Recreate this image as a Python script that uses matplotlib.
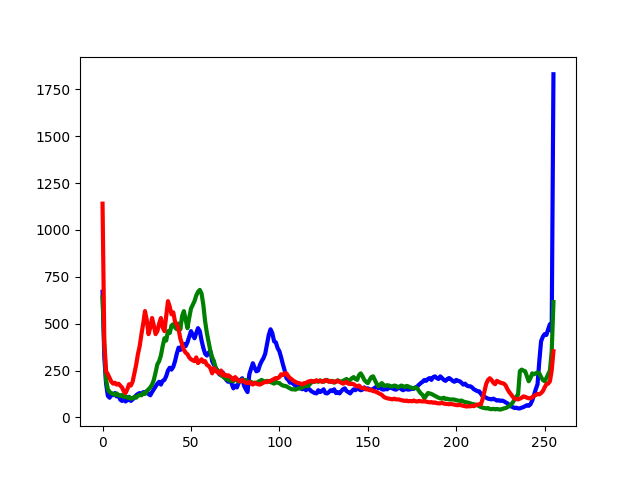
import matplotlib
matplotlib.use("Agg")
import matplotlib.pyplot as plt

bins = list(range(256))

blue = [670, 320, 180, 115, 105, 125, 118, 130, 112, 120, 95, 88, 100, 85, 92, 110,
        88, 96, 105, 118, 125, 130, 120, 135, 128, 140, 125, 118, 135, 150, 165, 180,
        190, 175, 195, 200, 220, 250, 265, 255, 270, 300, 340, 372, 360, 385, 392, 380,
        400, 430, 460, 440, 422, 450, 476, 460, 410, 370, 340, 330, 345, 353, 300, 280,
        265, 250, 230, 225, 240, 215, 200, 190, 205, 180, 155, 170, 160, 185, 200, 209,
        170, 150, 135, 230, 260, 289, 265, 246, 250, 280, 300, 316, 340, 390, 440, 470,
        450, 406, 400, 370, 353, 320, 283, 250, 209, 200, 185, 190, 177, 170, 160, 165,
        155, 150, 160, 145, 155, 150, 140, 135, 130, 128, 145, 135, 140, 150, 130, 128,
        135, 145, 140, 150, 130, 135, 128, 140, 150, 155, 140, 135, 128, 140, 150, 145,
        155, 150, 145, 148, 160, 150, 155, 150, 145, 152, 158, 165, 155, 160, 150, 148,
        152, 150, 160, 158, 155, 150, 148, 155, 160, 150, 145, 152, 150, 148, 150, 155,
        152, 160, 165, 175, 183, 190, 200, 195, 205, 210, 200, 215, 219, 210, 205, 219,
        210, 200, 195, 205, 210, 203, 195, 190, 200, 195, 193, 185, 175, 180, 170, 166,
        166, 160, 150, 145, 140, 139, 125, 112, 110, 105, 100, 98, 96, 100, 95, 90,
        92, 88, 90, 86, 80, 75, 65, 59, 55, 50, 52, 48, 48, 52, 55, 60,
        65, 62, 70, 90, 120, 150, 177, 300, 406, 430, 444, 440, 470, 497, 460, 1830]

green = [640, 380, 200, 150, 135, 130, 125, 120, 128, 118, 115, 120, 110, 112, 105, 108,
         100, 102, 110, 105, 115, 120, 118, 130, 125, 140, 150, 160, 175, 200, 240, 283,
         300, 330, 380, 422, 410, 460, 450, 490, 497, 480, 470, 500, 470, 540, 567, 520,
         476, 530, 580, 600, 620, 650, 670, 680, 660, 600, 513, 450, 400, 353, 320, 300,
         262, 250, 240, 225, 219, 210, 205, 200, 195, 198, 193, 205, 200, 190, 195, 203,
         195, 200, 190, 185, 190, 180, 185, 183, 190, 195, 200, 193, 190, 195, 193, 188,
         185, 180, 190, 185, 183, 175, 170, 168, 166, 160, 155, 150, 150, 148, 152, 155,
         155, 160, 165, 170, 166, 175, 185, 193, 190, 195, 190, 198, 193, 190, 195, 200,
         193, 190, 195, 185, 192, 198, 193, 188, 195, 200, 205, 195, 200, 209, 215, 205,
         200, 225, 235, 220, 200, 190, 183, 200, 215, 219, 200, 180, 166, 175, 183, 170,
         168, 172, 170, 165, 166, 170, 168, 160, 165, 170, 166, 162, 168, 165, 160, 158,
         155, 160, 155, 140, 128, 120, 102, 115, 130, 128, 125, 120, 115, 110, 105, 102,
         100, 105, 98, 100, 96, 96, 96, 95, 92, 90, 88, 90, 85, 82, 80, 78,
         75, 72, 70, 68, 65, 60, 55, 52, 50, 48, 50, 45, 44, 46, 43, 45,
         43, 42, 45, 48, 50, 55, 60, 70, 80, 95, 110, 123, 246, 255, 250, 246,
         220, 193, 210, 235, 230, 235, 240, 235, 215, 200, 193, 210, 230, 250, 350, 615]

red = [1140, 400, 246, 230, 210, 190, 180, 185, 175, 180, 170, 160, 140, 130, 150, 177,
       170, 190, 235, 280, 337, 380, 444, 500, 567, 520, 444, 480, 530, 490, 444, 460,
       500, 530, 480, 460, 540, 620, 590, 550, 560, 510, 497, 470, 420, 390, 360, 345,
       337, 320, 310, 305, 300, 320, 290, 300, 310, 295, 300, 280, 275, 262, 235, 262,
       250, 240, 235, 250, 225, 230, 220, 225, 219, 210, 200, 215, 205, 195, 193, 200,
       190, 185, 183, 190, 180, 175, 185, 180, 177, 175, 180, 185, 190, 188, 193, 195,
       200, 205, 210, 209, 215, 230, 225, 235, 235, 220, 210, 203, 195, 190, 185, 183,
       180, 175, 183, 183, 190, 193, 195, 190, 193, 198, 193, 195, 190, 193, 200, 195,
       190, 195, 188, 192, 190, 195, 190, 185, 180, 185, 190, 180, 178, 180, 177, 170,
       165, 170, 160, 155, 158, 150, 150, 145, 148, 140, 139, 135, 130, 125, 120, 110,
       105, 102, 100, 98, 96, 100, 96, 96, 95, 92, 90, 88, 90, 86, 88, 86,
       90, 86, 85, 88, 86, 85, 86, 84, 82, 80, 82, 78, 80, 76, 75, 75,
       78, 74, 72, 72, 70, 72, 70, 68, 66, 65, 68, 64, 62, 60, 58, 60,
       59, 62, 60, 65, 68, 70, 70, 100, 139, 180, 200, 209, 200, 185, 177, 195,
       190, 185, 183, 180, 170, 150, 135, 123, 110, 100, 98, 96, 100, 105, 112, 110,
       105, 102, 102, 108, 115, 120, 125, 123, 130, 140, 160, 177, 180, 193, 250, 353]

fig, ax = plt.subplots(figsize=(6.4, 4.79), dpi=100)
for series, col in ((blue, 'b'), (green, 'g'), (red, 'r')):
    ax.plot(bins, series, color=col, linewidth=3)
fig.savefig("out.png", dpi=100)
